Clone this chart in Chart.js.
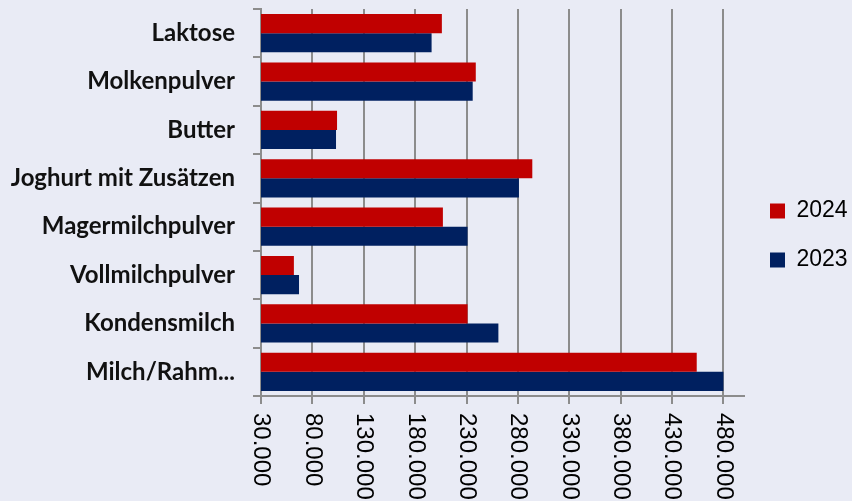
<!DOCTYPE html>
<html>
<head>
<meta charset="utf-8">
<script src="https://cdn.jsdelivr.net/npm/chart.js@4.4.1/dist/chart.umd.min.js"></script>
<style>
  html, body { margin: 0; padding: 0; background: #E9EBF5; }
  canvas { display: block; }
</style>
</head>
<body>
<canvas id="chart1" width="852" height="501"></canvas>
<script>
var categories = ['Laktose', 'Molkenpulver', 'Butter', 'Joghurt mit Zusätzen', 'Magermilchpulver', 'Vollmilchpulver', 'Kondensmilch', 'Milch/Rahm...'];
var seriesNames = ['2024', '2023'];
var values2024 = [206000, 239000, 104000, 294000, 207000, 62000, 231000, 454000];
var values2023 = [196000, 236000, 103000, 281000, 231000, 67000, 261000, 480000];
var xTicks = [30000, 80000, 130000, 180000, 230000, 280000, 330000, 380000, 430000, 480000];

function fmt(v) {
  return String(v).replace(/\B(?=(\d{3})+(?!\d))/g, '.');
}

// x labels read top-to-bottom (clockwise), chart.js only rotates the other way
var rotatedTicks = {
  id: 'rotatedTicks',
  afterDraw: function (chart) {
    var scale = chart.scales.x;
    var c = chart.ctx;
    c.save();
    c.font = '24px "Liberation Sans", Arial, sans-serif';
    c.fillStyle = '#000000';
    c.textAlign = 'left';
    c.textBaseline = 'middle';
    scale.ticks.forEach(function (t) {
      var x = scale.getPixelForValue(t.value);
      c.save();
      c.translate(x, scale.top + 17);
      c.rotate(Math.PI / 2);
      c.fillText(fmt(t.value), 0, 0);
      c.restore();
    });
    c.restore();
  }
};

var ctx = document.getElementById('chart1').getContext('2d');
var myChart = new Chart(ctx, {
  type: 'bar',
  data: {
    labels: categories,
    datasets: [
      {
        label: seriesNames[0],
        data: values2024,
        backgroundColor: '#C00000',
        borderWidth: 0
      },
      {
        label: seriesNames[1],
        data: values2023,
        backgroundColor: '#002060',
        borderWidth: 0
      }
    ]
  },
  options: {
    indexAxis: 'y',
    responsive: false,
    animation: false,
    barPercentage: 1,
    categoryPercentage: 0.79,
    layout: {
      padding: { top: 9, right: 0, bottom: 39, left: 0 }
    },
    plugins: {
      tooltip: { enabled: false },
      legend: {
        position: 'right',
        maxWidth: 108,
        labels: {
          boxWidth: 15,
          boxHeight: 15,
          padding: 26,
          color: '#000000',
          font: { family: '"Liberation Sans", Arial, sans-serif', size: 23 }
        }
      }
    },
    scales: {
      x: {
        min: 30000,
        max: 500000,
        afterBuildTicks: function (s) {
          s.ticks = xTicks.map(function (v) { return { value: v }; });
        },
        afterFit: function (s) {
          s.height = 66;
          s.paddingLeft = 0;
          s.paddingRight = 0;
        },
        ticks: { display: false },
        grid: { color: '#8C8C8C', lineWidth: 2, tickLength: 8 },
        border: { color: '#8C8C8C', width: 2 }
      },
      y: {
        afterFit: function (s) {
          s.width = 261;
          s.paddingTop = 0;
          s.paddingBottom = 0;
        },
        ticks: {
          color: '#111111',
          padding: 18,
          font: { family: 'Lato, "Liberation Sans", sans-serif', weight: 'bold', size: 24 }
        },
        grid: { drawOnChartArea: false, color: '#8C8C8C', lineWidth: 2, tickLength: 8 },
        border: { color: '#8C8C8C', width: 2 }
      }
    }
  },
  plugins: [rotatedTicks]
});
</script>
</body>
</html>
